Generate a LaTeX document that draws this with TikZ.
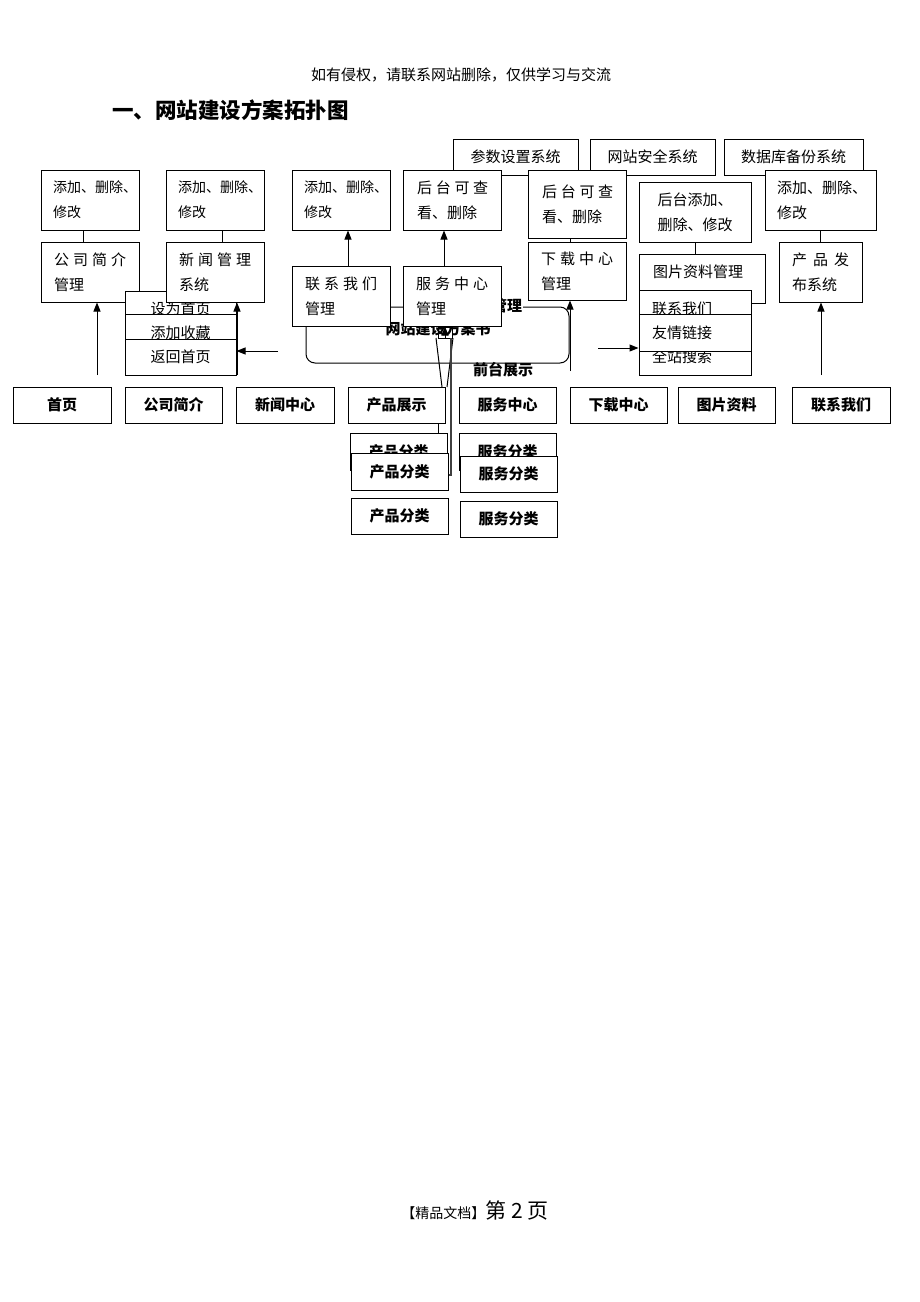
\documentclass[tikz,border=0pt]{standalone}
\usepackage{fontspec}
\setmainfont{Noto Sans CJK SC}
\usetikzlibrary{arrows.meta}
\newcommand\myfs{\fontsize{15pt}{25pt}\selectfont}
\newcommand\myfsa{\fontsize{14pt}{25pt}\selectfont}
\newcommand\jz[1]{\makebox[\hsize][s]{#1}}
\tikzset{
  box/.style={draw=black, line width=1pt, fill=white, inner sep=0pt, font=\myfs, align=center},
  bbox/.style={box, font=\bfseries\myfs},
  txt/.style={inner sep=0pt, align=left, font=\myfs},
  ln/.style={line width=1pt},
  arr/.style={line width=1pt, -{Triangle[length=9pt,width=7pt]}},
}
% name, x1, y1, x2, y2, text   (opts optional)
\newcommand\bx[7][]{\node[box,#1,minimum width={(#5-#3)*1pt},minimum height={(#6-#4)*1pt}] (#2) at ({(#3+#5)/2},{(#4+#6)/2}) {#7};}
% name, x1, y1, x2, y2, pad, textwidth, text
\newcommand\tbx[8]{\bx{#1}{#2}{#3}{#4}{#5}{}\node[txt,text width=#7pt,anchor=west] (#1t) at ({#2+#6},{(#3+#5)/2}) {#8};}
\begin{document}
\begin{tikzpicture}[x=1pt,y=-1pt]
\useasboundingbox[fill=white] (0,0) rectangle (920,1302);

% header and title
\node[inner sep=0pt] (hd) at (461,75) {\fontsize{15pt}{18pt}\selectfont 如有侵权，请联系网站删除，仅供学习与交流};
\node[inner sep=0pt,anchor=west] (tt) at (112,110) {\bfseries\fontsize{21.5pt}{24pt}\selectfont 一、网站建设方案拓扑图};

% central rounded frame and its texts
\node[draw=black, line width=1pt, rounded corners=9pt, minimum width=263pt, minimum height=56pt, inner sep=0pt] (rr) at (437.5,335) {};
\node[inner sep=0pt, font=\bfseries\myfs] (rrt) at (438,329) {网站建设方案书};
\node[inner sep=1pt, fill=white, font=\bfseries\myfs] (mg) at (507,306) {管理};
\node[inner sep=0pt, font=\bfseries\myfs] (qt) at (503,370) {前台展示};

% top system boxes
\bx{cs}{453}{139}{578}{175}{参数设置系统}
\bx{aq}{590}{139}{715}{175}{网站安全系统}
\bx{db}{724}{139}{863}{175}{数据库备份系统}

% second row
\tbx{a1}{41}{170}{139}{230}{12}{84}{\myfsa 添加、删除、\\修改}
\tbx{a2}{166}{170}{264}{230}{12}{84}{\myfsa 添加、删除、\\修改}
\tbx{a3}{292}{170}{390}{230}{12}{84}{\myfsa 添加、删除、\\修改}
\tbx{a4}{403}{170}{501}{230}{14}{71}{\jz{后\hfill 台\hfill 可\hfill 查}\\看、删除}
\tbx{a5}{528}{170}{626}{238}{14}{71}{\jz{后\hfill 台\hfill 可\hfill 查}\\看、删除}
\bx{a6}{639}{182}{751}{242}{后台添加、\\删除、修改}
\tbx{a7}{765}{170}{876}{230}{12}{90}{添加、删除、\\修改}

% links between second and third row
\draw[ln] ([xshift=-7pt]a1.south) -- ++(0,12);
\draw[ln] ([xshift=7pt]a2.south) -- ++(0,12);
\draw[ln] ([xshift=-7pt]a5.south) -- ++(0,4);
\draw[ln] (a6.south) -- ++(0,12);
\draw[ln] (a7.south) -- ++(0,12);

% third row
\tbx{b1}{41}{242}{139}{302}{13}{72}{\jz{公\hfill 司\hfill 简\hfill 介}\\管理}
\bx{l1}{125}{291}{236}{327}{设为首页}
\bx{l2}{125}{314}{236}{351}{添加收藏}
\bx{l3}{125}{339}{236}{375}{返回首页}
\tbx{b2}{166}{242}{264}{302}{13}{72}{\jz{新\hfill 闻\hfill 管\hfill 理}\\系统}
\tbx{b3}{292}{266}{390}{326}{13}{72}{\jz{联\hfill 系\hfill 我\hfill 们}\\管理}
\tbx{b4}{403}{266}{501}{326}{13}{72}{\jz{服\hfill 务\hfill 中\hfill 心}\\管理}
\tbx{b5}{528}{242}{626}{300}{13}{72}{\jz{下\hfill 载\hfill 中\hfill 心}\\管理}
\bx{b6}{639}{254}{765}{303}{}
\node[txt,anchor=west] (b6t) at (653,272) {图片资料管理};
\tbx{r1}{639}{290}{751}{327}{13}{90}{联系我们}
\tbx{r3}{639}{338}{751}{375}{13}{90}{全站搜索}
\tbx{r2}{639}{314}{751}{351}{13}{90}{友情链接}
\tbx{b7}{779}{242}{862}{302}{13}{57}{\jz{产\hfill 品\hfill 发}\\布系统}

\draw[arr] ([xshift=7pt]b3.north) -- ([xshift=7pt]a3.south);
\draw[arr] ([xshift=-8pt]b4.north) -- ([xshift=-8pt]a4.south);

% bottom row
\bx[bbox]{n1}{13}{387}{111}{423}{首页}
\bx[bbox]{n2}{125}{387}{222}{423}{公司简介}
\bx[bbox]{n3}{236}{387}{334}{423}{新闻中心}
\bx[bbox]{n4}{348}{387}{445}{423}{产品展示}
\bx[bbox]{n5}{459}{387}{556}{423}{服务中心}
\bx[bbox]{n6}{570}{387}{667}{423}{下载中心}
\bx[bbox]{n7}{678}{387}{775}{423}{图片资料}
\bx[bbox]{n8}{792}{387}{890}{423}{联系我们}

% central tangle of lines
\node[draw=black, line width=0.9pt, minimum width=14pt, minimum height=11pt, inner sep=0pt] (ab) at (445,332.5) {};
\coordinate (k1) at (436,338);
\coordinate (k2) at (442,387);
\coordinate (k3) at (453,338);
\coordinate (k4) at (447,387);
\coordinate (k5) at (451,338);
\coordinate (k6) at (451,475);
\coordinate (k7) at (448,475);
\draw[ln] (k1) -- (k2);
\draw[ln] (k3) -- (k4);
\draw[line width=1.6pt, black!75] (k5) -- (k6) -- (k7);
\draw[arr] (ab.south) -- (ab.south |- b4.south);
\coordinate (k8) at (438,0);
\draw[ln] (k8 |- n4.south) -- ++(0,10);

% category boxes
\bx[bbox]{pc1}{350}{433}{447}{470}{产品分类}
\bx[bbox]{sc1}{459}{433}{556}{470}{服务分类}
\bx[bbox]{pc2}{351}{453}{448}{490}{产品分类}
\bx[bbox]{sc2}{460}{456}{557}{492}{服务分类}
\bx[bbox]{pc3}{351}{498}{448}{534}{产品分类}
\bx[bbox]{sc3}{460}{501}{557}{537}{服务分类}

% arrows from the bottom row region
\coordinate (c1) at (97,375);
\draw[arr] (c1) -- (c1 |- b1.south);
\coordinate (c2) at (237,375);
\draw[arr] (c2) -- (c2 |- b2.south);
\coordinate (c3) at (278,351);
\draw[arr] (c3) -- (c3 -| l3.east);
\coordinate (c4) at (570,371);
\draw[arr] (c4) -- (c4 |- b5.south);
\coordinate (c5) at (598,348);
\draw[arr] (c5) -- (c5 -| r2.west);
\coordinate (c6) at (821,375);
\draw[arr] (c6) -- (c6 |- b7.south);

% footer
\node[inner sep=0pt] (ft) at (475,1210) {{\fontsize{14pt}{16pt}\selectfont 【精品文档】}{\fontsize{21pt}{23pt}\selectfont 第 2 页}};
\end{tikzpicture}
\end{document}
